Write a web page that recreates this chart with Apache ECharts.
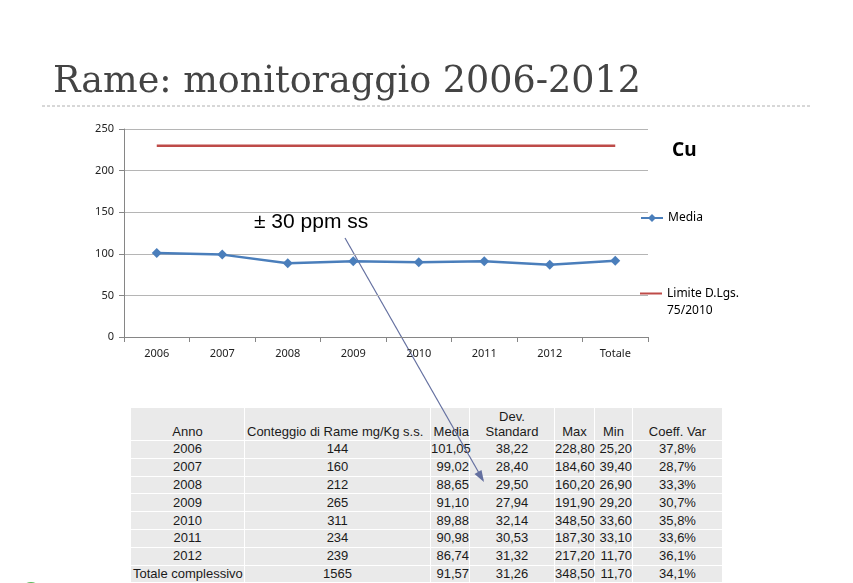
<!DOCTYPE html>
<html>
<head>
<meta charset="utf-8">
<script src="https://cdn.jsdelivr.net/npm/echarts@6/dist/echarts.min.js"></script>
<style>
  html, body { margin: 0; padding: 0; background: #ffffff; }
  #wrap { position: relative; width: 853px; height: 583px; overflow: hidden; }
  #chart { position: absolute; left: 0; top: 0; width: 853px; height: 583px; z-index: 2; pointer-events: none; }
  #tbl { position: absolute; left: 130px; top: 407px; width: 592px; border-collapse: collapse; z-index: 1;
         font-family: "Liberation Sans", Arial, sans-serif; font-size: 13px; color: #1a1a1a; table-layout: fixed; }
  #tbl td { background: #eaeaea; border: 1px solid #ffffff; padding: 0; height: 16.8px; line-height: 16px; white-space: nowrap; overflow: visible; }
  #tbl tr.hdr td { height: 31px; vertical-align: bottom; line-height: 15px; padding-bottom: 1px; }
  .c { text-align: center; } .r { text-align: right; } .l { text-align: left; }
  td.l { padding-left: 2px !important; }
</style>
</head>
<body>
<div id="wrap">
  <table id="tbl"></table>
  <div id="chart"></div>
</div>
<script>
// ---- data ----
const categories = ['2006', '2007', '2008', '2009', '2010', '2011', '2012', 'Totale'];
const media = [101.05, 99.02, 88.65, 91.10, 89.88, 90.98, 86.74, 91.57];
const limite = [230, 230, 230, 230, 230, 230, 230, 230];
const yTicks = { min: 0, max: 250, interval: 50 };

const tableHeaders = ['Anno', 'Conteggio di Rame mg/Kg s.s.', 'Media', 'Dev.<br>Standard', 'Max', 'Min', 'Coeff. Var'];
const tableAnno = ['2006', '2007', '2008', '2009', '2010', '2011', '2012', 'Totale complessivo'];
const tableConteggio = ['144', '160', '212', '265', '311', '234', '239', '1565'];
const tableMedia = ['101,05', '99,02', '88,65', '91,10', '89,88', '90,98', '86,74', '91,57'];
const tableDev = ['38,22', '28,40', '29,50', '27,94', '32,14', '30,53', '31,32', '31,26'];
const tableMax = ['228,80', '184,60', '160,20', '191,90', '348,50', '187,30', '217,20', '348,50'];
const tableMin = ['25,20', '39,40', '26,90', '29,20', '33,60', '33,10', '11,70', '11,70'];
const tableCoeff = ['37,8%', '28,7%', '33,3%', '30,7%', '35,8%', '33,6%', '36,1%', '34,1%'];

// ---- table ----
const colW = [114, 186, 39, 85, 40, 38, 90];
const hdrAlign = ['c', 'l', 'r', 'c', 'c', 'c', 'c'];
const cellAlign = ['c', 'c', 'r', 'c', 'r', 'r', 'c'];
const tbl = document.getElementById('tbl');
let html = '<colgroup>' + colW.map(w => '<col style="width:' + w + 'px">').join('') + '</colgroup>';
html += '<tr class="hdr">' + tableHeaders.map((h, i) => '<td class="' + hdrAlign[i] + '">' + h + '</td>').join('') + '</tr>';
for (let i = 0; i < tableAnno.length; i++) {
  const row = [tableAnno[i], tableConteggio[i], tableMedia[i], tableDev[i], tableMax[i], tableMin[i], tableCoeff[i]];
  html += '<tr>' + row.map((v, j) => {
    let a = cellAlign[j];
    if (j === 0 && i === tableAnno.length - 1) a = 'l';
    return '<td class="' + a + '">' + v + '</td>';
  }).join('') + '</tr>';
}
tbl.innerHTML = html;

// ---- chart ----
const chart = echarts.init(document.getElementById('chart'), null, { renderer: 'canvas' });
const axisFont = '"Noto Sans", "Open Sans", sans-serif';
chart.setOption({
  animation: false,
  grid: { left: 124, right: 205, top: 129, bottom: 246, containLabel: false },
  title: [
    { text: 'Rame: monitoraggio 2006-2012', left: 48, top: 59,
      textStyle: { fontFamily: '"DejaVu Serif", serif', fontSize: 36.5, fontWeight: 'normal', color: '#444444' } },
    { text: 'Cu', left: 667, top: 136,
      textStyle: { fontFamily: axisFont, fontSize: 19, fontWeight: 'bold', color: '#000000' } }
  ],
  legend: [
    { data: ['Media'], orient: 'vertical', left: 640, top: 212, padding: 0, itemWidth: 22, itemHeight: 10,
      textStyle: { fontFamily: axisFont, fontSize: 12, color: '#000' } },
    { data: [{ name: 'Limite D.Lgs. 75/2010', icon: 'rect' }], orient: 'vertical', left: 640, top: 268, padding: 0,
      itemWidth: 22, itemHeight: 2,
      formatter: function () { return '\nLimite D.Lgs.\n75/2010'; },
      textStyle: { fontFamily: axisFont, fontSize: 12, color: '#000', lineHeight: 17 } }
  ],
  xAxis: {
    type: 'category', data: categories, boundaryGap: true,
    axisLine: { lineStyle: { color: '#868686' } },
    axisTick: { show: true, length: 5, lineStyle: { color: '#868686' } },
    axisLabel: { fontFamily: axisFont, fontSize: 11, color: '#222', margin: 11 }
  },
  yAxis: {
    type: 'value', min: yTicks.min, max: yTicks.max, interval: yTicks.interval,
    axisLine: { show: true, lineStyle: { color: '#868686' } },
    axisTick: { show: true, length: 5, lineStyle: { color: '#868686' } },
    splitLine: { lineStyle: { color: '#b5b5b5' } },
    axisLabel: { fontFamily: axisFont, fontSize: 11, color: '#222', margin: 10 }
  },
  series: [
    { name: 'Media', type: 'line', data: media, symbol: 'diamond', symbolSize: 10,
      itemStyle: { color: '#4a7ebb' }, lineStyle: { color: '#4a7ebb', width: 2.5 } },
    { name: 'Limite D.Lgs. 75/2010', type: 'line', data: limite, symbol: 'none',
      itemStyle: { color: '#be4b48' }, lineStyle: { color: '#be4b48', width: 2.5 } }
  ],
  graphic: [
    { type: 'line', shape: { x1: 42, y1: 106, x2: 810, y2: 106 },
      style: { stroke: '#b0b0b0', lineWidth: 1, lineDash: [3, 2] } },
    { type: 'text', left: 254, top: 212,
      style: { text: '± 30 ppm ss', fontFamily: '"Liberation Sans", Arial, sans-serif', fontSize: 21, fill: '#000' } },
    { type: 'line', shape: { x1: 345, y1: 238, x2: 483, y2: 480 },
      style: { stroke: '#6470a0', lineWidth: 1.2 } },
    { type: 'polygon', shape: { points: [[484, 482], [474.5, 474], [481.5, 470]] },
      style: { fill: '#6470a0' } },
    { type: 'circle', shape: { cx: 31, cy: 592, r: 10 }, style: { fill: '#5cb85c' } }
  ]
});
</script>
</body>
</html>
